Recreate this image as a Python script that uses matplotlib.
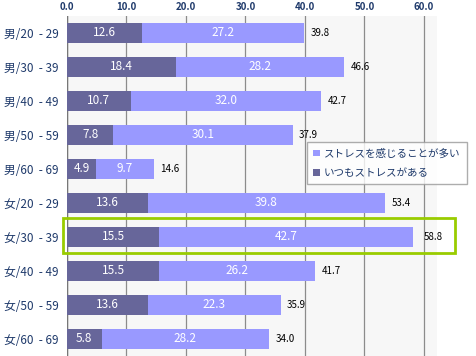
import numpy as np
import matplotlib.pyplot as plt
from matplotlib.patches import Rectangle

plt.rcParams['font.family'] = ['Noto Sans CJK JP', 'DejaVu Sans']

labels = ['男/20  - 29', '男/30  - 39', '男/40  - 49', '男/50  - 59', '男/60  - 69',
          '女/20  - 29', '女/30  - 39', '女/40  - 49', '女/50  - 59', '女/60  - 69']
always = [12.6, 18.4, 10.7, 7.8, 4.9, 13.6, 15.5, 15.5, 13.6, 5.8]
often = [27.2, 28.2, 32.0, 30.1, 9.7, 39.8, 42.7, 26.2, 22.3, 28.2]
totals = [39.8, 46.6, 42.7, 37.9, 14.6, 53.4, 58.8, 41.7, 35.9, 34.0]
ticks = [0, 10, 20, 30, 40, 50, 60]

dark = '#67669a'
light = '#9999ff'
navy = '#1f3a6b'

fig = plt.figure(figsize=(4.77, 3.56), dpi=100)
ax = fig.add_axes([67/477, 0, 370/477, 340/356])
ax.set_facecolor('#f7f7f7')

y = np.arange(len(labels))
h = 0.58
b1 = ax.barh(y, always, height=h, color=dark, label='いつもストレスがある', zorder=3)
b2 = ax.barh(y, often, left=always, height=h, color=light, label='ストレスを感じることが多い', zorder=3)

for i in range(len(labels)):
    ax.text(always[i] / 2, y[i], f'{always[i]:.1f}', color='white', ha='center', va='center',
            fontsize=8.5, zorder=4)
    ax.text(always[i] + often[i] / 2, y[i], f'{often[i]:.1f}', color='white', ha='center',
            va='center', fontsize=8.5, zorder=4)
    ax.text(totals[i] + 1.1, y[i], f'{totals[i]:.1f}', color='black', ha='left', va='center',
            fontsize=7, zorder=4)

ax.set_xlim(0, 370/5.95)
ax.set_ylim(len(labels) - 0.5, -0.5)
ax.set_xticks(ticks)
ax.set_xticklabels([f'{t:.1f}' for t in ticks], color=navy, fontsize=7, fontweight='bold')
ax.xaxis.tick_top()
ax.set_yticks(y)
ax.set_yticklabels(labels, color=navy, fontsize=8.5)
ax.tick_params(length=0, pad=6)
ax.tick_params(axis='x', pad=3)
ax.grid(axis='x', color='#8c8c8c', linewidth=0.9, zorder=1)
ax.axvline(0, color='#777777', linewidth=1, zorder=2)
for s in ax.spines.values():
    s.set_visible(False)

# highlight box around female 30-39
fig.patches.append(Rectangle((63/477, 1 - 253/356), 392/477, 35/356, transform=fig.transFigure,
                             fill=False, edgecolor='#99cc00', linewidth=2))

leg = ax.legend(handles=[b2, b1], loc='upper left', bbox_to_anchor=(307/477, 1 - 142/356),
                bbox_transform=fig.transFigure, fontsize=7.6, frameon=True, fancybox=False,
                handlelength=0.6, handleheight=0.6, handletextpad=0.4, borderpad=0.6,
                labelspacing=0.9, borderaxespad=0)
leg.get_frame().set_edgecolor('#999999')
leg.get_frame().set_linewidth(1)
for t in leg.get_texts():
    t.set_color(navy)

fig.savefig('out.png', dpi=100)
